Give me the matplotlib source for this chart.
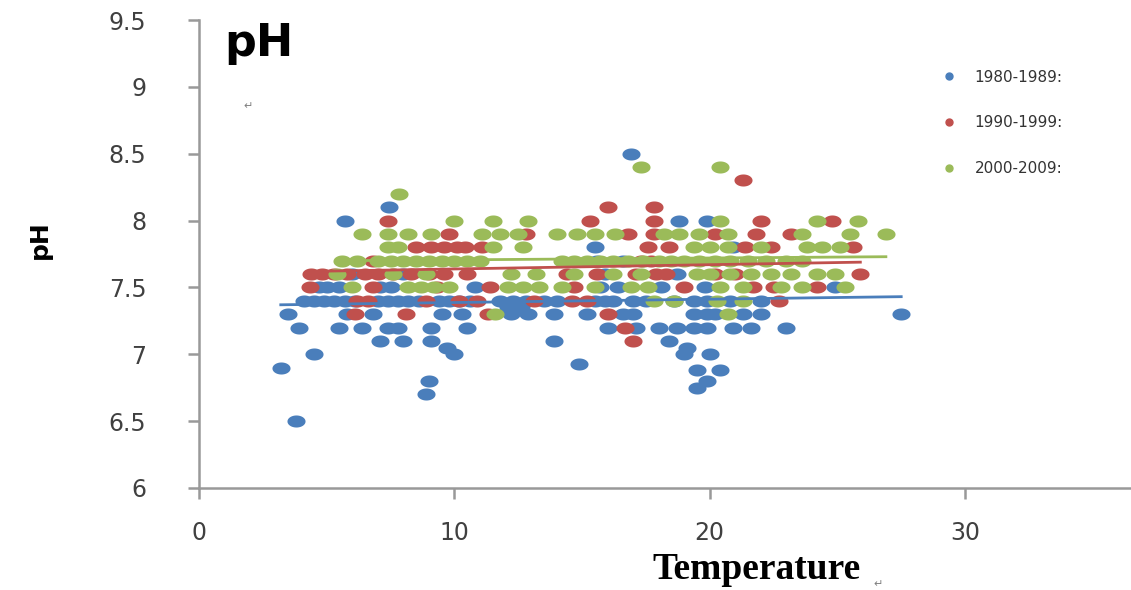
import numpy as np
import matplotlib
matplotlib.use("Agg")
import matplotlib.pyplot as plt
from matplotlib.path import Path
from matplotlib.lines import Line2D

# (temperature, pH)
blue_points = [
    (16.9, 8.5), (7.45, 8.1), (5.7, 8.0), (18.8, 8.0), (19.9, 8.0),
    (15.5, 7.8), (20.9, 7.8), (15.6, 7.7), (16.6, 7.7),
    (6.0, 7.6), (8.0, 7.6), (15.9, 7.6), (18.7, 7.6),
    (4.7, 7.5), (5.0, 7.5), (5.5, 7.5), (7.1, 7.5), (7.5, 7.5), (10.8, 7.5), (15.7, 7.5),
    (16.4, 7.5), (18.1, 7.5), (19.8, 7.5), (24.9, 7.5),
    (4.1, 7.4), (4.5, 7.4), (4.9, 7.4), (5.3, 7.4), (5.7, 7.4), (6.1, 7.4), (7.0, 7.4),
    (7.4, 7.4), (7.8, 7.4), (8.2, 7.4), (8.6, 7.4), (9.4, 7.4), (9.8, 7.4), (10.2, 7.4),
    (10.6, 7.4), (11.8, 7.4), (12.3, 7.4), (12.8, 7.4), (13.5, 7.4), (14.0, 7.4), (15.5, 7.4),
    (15.9, 7.4), (16.2, 7.4), (17.0, 7.4), (17.5, 7.4), (18.6, 7.4), (19.4, 7.4), (19.9, 7.4),
    (20.8, 7.4), (22.0, 7.4), (12.1, 7.35), (12.6, 7.35),
    (3.5, 7.3), (5.8, 7.3), (6.8, 7.3), (9.5, 7.3), (10.3, 7.3), (12.2, 7.3), (12.9, 7.3),
    (13.9, 7.3), (15.2, 7.3), (16.6, 7.3), (17.0, 7.3), (19.4, 7.3), (19.9, 7.3), (20.2, 7.3),
    (21.3, 7.3), (22.0, 7.3), (27.5, 7.3),
    (3.9, 7.2), (5.5, 7.2), (6.4, 7.2), (7.4, 7.2), (7.8, 7.2), (9.1, 7.2), (10.5, 7.2),
    (16.0, 7.2), (17.1, 7.2), (18.0, 7.2), (18.7, 7.2), (19.4, 7.2), (19.9, 7.2), (20.9, 7.2),
    (21.6, 7.2), (23.0, 7.2),
    (7.1, 7.1), (8.0, 7.1), (9.1, 7.1), (13.9, 7.1), (18.4, 7.1), (9.7, 7.05), (19.1, 7.05),
    (4.5, 7.0), (10.0, 7.0), (19.0, 7.0), (20.0, 7.0), (14.9, 6.93), (3.2, 6.9), (19.5, 6.88),
    (20.4, 6.88), (9.0, 6.8), (19.9, 6.8), (19.5, 6.75), (8.9, 6.7), (3.8, 6.5),
]
red_points = [
    (21.3, 8.3), (16.0, 8.1), (17.8, 8.1),
    (7.4, 8.0), (15.3, 8.0), (17.8, 8.0), (22.0, 8.0), (24.8, 8.0),
    (9.8, 7.9), (12.8, 7.9), (16.8, 7.9), (17.8, 7.9), (20.2, 7.9), (21.8, 7.9), (23.2, 7.9),
    (8.5, 7.8), (9.1, 7.8), (9.6, 7.8), (10.1, 7.8), (10.4, 7.8), (11.1, 7.8), (17.6, 7.8),
    (18.4, 7.8), (21.4, 7.8), (22.4, 7.8), (25.6, 7.8),
    (6.8, 7.7), (17.3, 7.7), (17.7, 7.7),
    (4.4, 7.6), (4.8, 7.6), (5.3, 7.6), (5.8, 7.6), (6.5, 7.6), (7.0, 7.6), (7.6, 7.6),
    (8.3, 7.6), (9.0, 7.6), (9.6, 7.6), (10.5, 7.6), (14.4, 7.6), (15.6, 7.6), (17.1, 7.6),
    (17.9, 7.6), (18.3, 7.6), (20.2, 7.6), (21.0, 7.6), (25.9, 7.6),
    (4.35, 7.5), (6.8, 7.5), (9.3, 7.5), (11.4, 7.5), (14.7, 7.5), (19.0, 7.5), (21.7, 7.5),
    (22.5, 7.5), (24.2, 7.5),
    (6.2, 7.4), (6.6, 7.4), (8.9, 7.4), (10.2, 7.4), (10.9, 7.4), (13.1, 7.4), (14.6, 7.4),
    (15.2, 7.4), (22.7, 7.4),
    (6.1, 7.3), (8.1, 7.3), (11.3, 7.3), (16.0, 7.3), (16.7, 7.2), (17.0, 7.1),
]
green_points = [
    (17.3, 8.4), (20.4, 8.4), (7.85, 8.2),
    (10.0, 8.0), (11.5, 8.0), (12.9, 8.0), (20.4, 8.0), (24.2, 8.0), (25.8, 8.0),
    (6.4, 7.9), (7.4, 7.9), (8.2, 7.9), (9.1, 7.9), (11.1, 7.9), (11.8, 7.9), (12.5, 7.9),
    (14.0, 7.9), (14.8, 7.9), (15.5, 7.9), (16.3, 7.9), (18.2, 7.9), (18.8, 7.9), (19.6, 7.9),
    (20.7, 7.9), (23.6, 7.9), (25.5, 7.9), (26.9, 7.9),
    (7.4, 7.8), (7.8, 7.8), (11.5, 7.8), (12.7, 7.8), (19.4, 7.8), (20.0, 7.8), (20.7, 7.8),
    (22.0, 7.8), (23.8, 7.8), (24.4, 7.8), (25.1, 7.8),
    (5.6, 7.7), (6.2, 7.7), (7.0, 7.7), (7.5, 7.7), (8.0, 7.7), (8.5, 7.7), (9.0, 7.7),
    (9.5, 7.7), (10.0, 7.7), (10.5, 7.7), (11.0, 7.7), (14.2, 7.7), (14.7, 7.7), (15.2, 7.7),
    (15.7, 7.7), (16.2, 7.7), (16.8, 7.7), (17.4, 7.7), (18.0, 7.7), (18.5, 7.7), (19.0, 7.7),
    (19.6, 7.7), (20.2, 7.7), (20.8, 7.7), (21.5, 7.7), (22.2, 7.7), (23.0, 7.7), (23.6, 7.7),
    (5.4, 7.6), (7.6, 7.6), (8.9, 7.6), (12.2, 7.6), (13.2, 7.6), (14.7, 7.6), (16.2, 7.6),
    (17.3, 7.6), (19.5, 7.6), (20.0, 7.6), (20.8, 7.6), (21.6, 7.6), (22.4, 7.6), (23.2, 7.6),
    (24.2, 7.6), (24.9, 7.6),
    (6.0, 7.5), (8.2, 7.5), (8.7, 7.5), (9.2, 7.5), (9.8, 7.5), (12.1, 7.5), (12.7, 7.5),
    (13.3, 7.5), (14.2, 7.5), (15.5, 7.5), (16.9, 7.5), (17.6, 7.5), (20.4, 7.5), (21.3, 7.5),
    (22.8, 7.5), (23.6, 7.5), (25.3, 7.5),
    (17.8, 7.4), (18.6, 7.4), (20.3, 7.4), (21.3, 7.4), (11.6, 7.3), (20.7, 7.3),
]
labels = ["1980-1989:", "1990-1999:", "2000-2009:"]
colors = ["#4a7ebb", "#c0504d", "#9bbb59"]
# linear trend lines (slope, intercept)
trend_slope = [0.0025, 0.0032, 0.0014]
trend_intercept = [7.362, 7.606, 7.692]
x_ticks = [0, 10, 20, 30]
y_ticks = [6, 6.5, 7, 7.5, 8, 8.5, 9, 9.5]

# slightly wide ellipse marker, like the stretched picture
t = np.linspace(0, 2 * np.pi, 40)
ellipse = Path(np.column_stack([1.5 * np.cos(t), np.sin(t)]), closed=True)

fig = plt.figure(figsize=(11.31, 5.90), dpi=100)
ax = fig.add_axes([0.176, 0.173, 0.824, 0.793])

series = [blue_points, red_points, green_points]
for pts, c in zip(series, colors):
    arr = np.array(pts)
    ax.scatter(arr[:, 0], arr[:, 1], s=170, marker=ellipse, color=c, linewidths=0, zorder=2)

for pts, c, k, b in zip(series, colors, trend_slope, trend_intercept):
    arr = np.array(pts)
    xs = np.array([arr[:, 0].min(), arr[:, 0].max()])
    ax.plot(xs, k * xs + b, color=c, lw=2, zorder=3)

ax.set_xlim(0, 36.5)
ax.set_ylim(6, 9.5)
ax.set_xticks(x_ticks)
ax.set_yticks(y_ticks)
ax.set_yticklabels([f"{v:g}" for v in y_ticks])
for s in ["top", "right"]:
    ax.spines[s].set_visible(False)
for s in ["left", "bottom"]:
    ax.spines[s].set_color("#999999")
    ax.spines[s].set_linewidth(1.8)
ax.tick_params(direction="out", length=8, width=1.8, color="#999999",
               labelsize=17, labelcolor="#404040")
ax.tick_params(axis="x", pad=16)
ax.tick_params(axis="y", pad=30)

ax.set_ylabel("pH", fontsize=18, fontweight="bold")
ax.yaxis.set_label_coords(-0.158, 0.53)
ax.set_xlabel("Temperature", fontsize=27, fontfamily="Liberation Serif",
              fontweight="bold")
ax.xaxis.set_label_coords(0.598, -0.137)
fig.text(0.772, 0.005, "\u21b5", fontsize=8, color="#808080")

ax.text(0.027, 0.995, "pH", transform=ax.transAxes, fontsize=32,
        fontweight="bold", va="top")
fig.text(0.215, 0.815, "\u21b5", fontsize=8, color="#808080")

handles = [Line2D([], [], ls="none", marker="o", ms=5, color=c) for c in colors]
ax.legend(handles, labels, loc="upper left", bbox_to_anchor=(0.82, 0.905),
          bbox_transform=fig.transFigure, frameon=False, fontsize=11,
          labelspacing=2.0, handlelength=1.0, handletextpad=1.2,
          labelcolor="#333333")

fig.savefig("out.png", dpi=100)
